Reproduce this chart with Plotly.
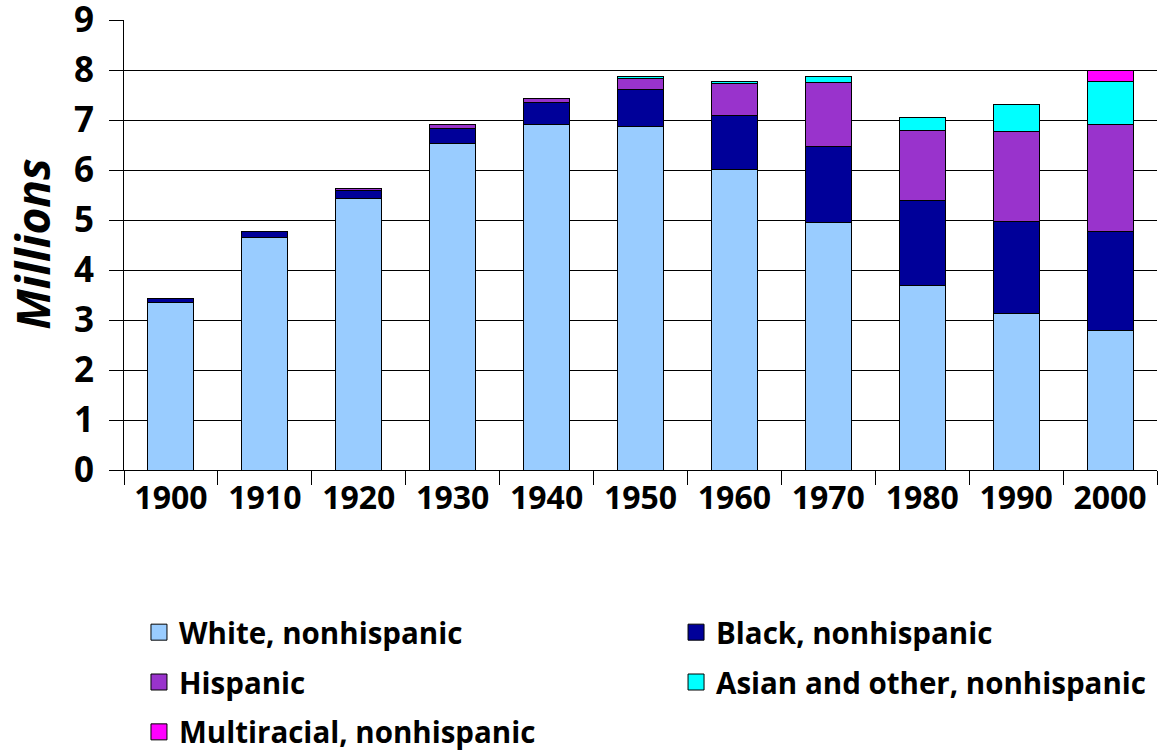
import plotly.graph_objects as go

years = ["1900", "1910", "1920", "1930", "1940", "1950", "1960", "1970", "1980", "1990", "2000"]
white = [3.35, 4.65, 5.43, 6.54, 6.91, 6.87, 6.02, 4.95, 3.69, 3.14, 2.80]
black = [0.09, 0.12, 0.16, 0.30, 0.45, 0.75, 1.08, 1.52, 1.70, 1.84, 1.97]
hispanic = [None, None, 0.04, 0.08, 0.07, 0.21, 0.64, 1.29, 1.41, 1.79, 2.14]
asian = [None, None, None, None, None, 0.05, 0.03, 0.11, 0.26, 0.55, 0.86]
multi = [None, None, None, None, None, None, None, None, None, None, 0.22]

series = [
    ("White, nonhispanic", white, "#99CCFF", "legend"),
    ("Black, nonhispanic", black, "#000099", "legend2"),
    ("Hispanic", hispanic, "#9933CC", "legend"),
    ("Asian and other, nonhispanic", asian, "#00FFFF", "legend2"),
    ("Multiracial, nonhispanic", multi, "#FF00FF", "legend"),
]

FONT = "Open Sans"
fig = go.Figure()
for name, vals, color, _ in series:
    fig.add_trace(go.Bar(
        x=years, y=vals, name=name, showlegend=False,
        marker=dict(color=color, line=dict(color="#000000", width=1)),
    ))

# legend-only entries (larger square swatches)
for i, (name, vals, color, lg) in enumerate(series):
    fig.add_trace(go.Scatter(
        x=[None], y=[None], mode="markers", name=name, legend=lg,
        legendgroup="g%d" % i,
        marker=dict(symbol="square", size=19, color=color,
                    line=dict(color="#000000", width=1)),
    ))

legend_font = dict(size=29.5, family=FONT, weight="bold", color="#000000")
fig.update_layout(
    width=1162, height=752,
    barmode="stack", bargap=0.51,
    plot_bgcolor="#FFFFFF", paper_bgcolor="#FFFFFF",
    margin=dict(l=124, r=5, t=20, b=282, autoexpand=False),
    font=dict(family=FONT, color="#000000"),
    legend=dict(x=0.0145, y=-0.3033,
                xanchor="left", yanchor="top", traceorder="grouped",
                font=legend_font, tracegroupgap=8.5, bgcolor="rgba(0,0,0,0)"),
    legend2=dict(x=0.5344, y=-0.3033,
                 xanchor="left", yanchor="top", traceorder="grouped",
                 font=legend_font, tracegroupgap=8.5, bgcolor="rgba(0,0,0,0)"),
    xaxis=dict(
        type="category", showline=True, linecolor="#000000", linewidth=1,
        ticks="outside", tickson="boundaries", ticklen=14, tickcolor="#000000",
        showgrid=False, automargin=False,
        tickfont=dict(size=32, family=FONT, weight="bold"),
    ),
    yaxis=dict(
        range=[0, 9], dtick=1, showline=True, linecolor="#000000", linewidth=1,
        ticks="outside", ticklen=14, tickcolor="#000000",
        showgrid=True, gridcolor="#000000", gridwidth=1,
        zeroline=False, automargin=False, ticklabeloverflow="allow",
        ticklabelstandoff=8,
        tickfont=dict(size=35, family=FONT, weight="bold"),
    ),
    annotations=[dict(
        text="<i>Millions</i>", textangle=-90, showarrow=False,
        xref="paper", yref="paper", x=-0.089, y=0.503,
        xanchor="center", yanchor="middle",
        font=dict(size=46, family=FONT, weight="bold", color="#000000"),
    )],
)

fig.write_html("out.html", config={"displayModeBar": False},
               post_script="document.body.style.margin='0';")
